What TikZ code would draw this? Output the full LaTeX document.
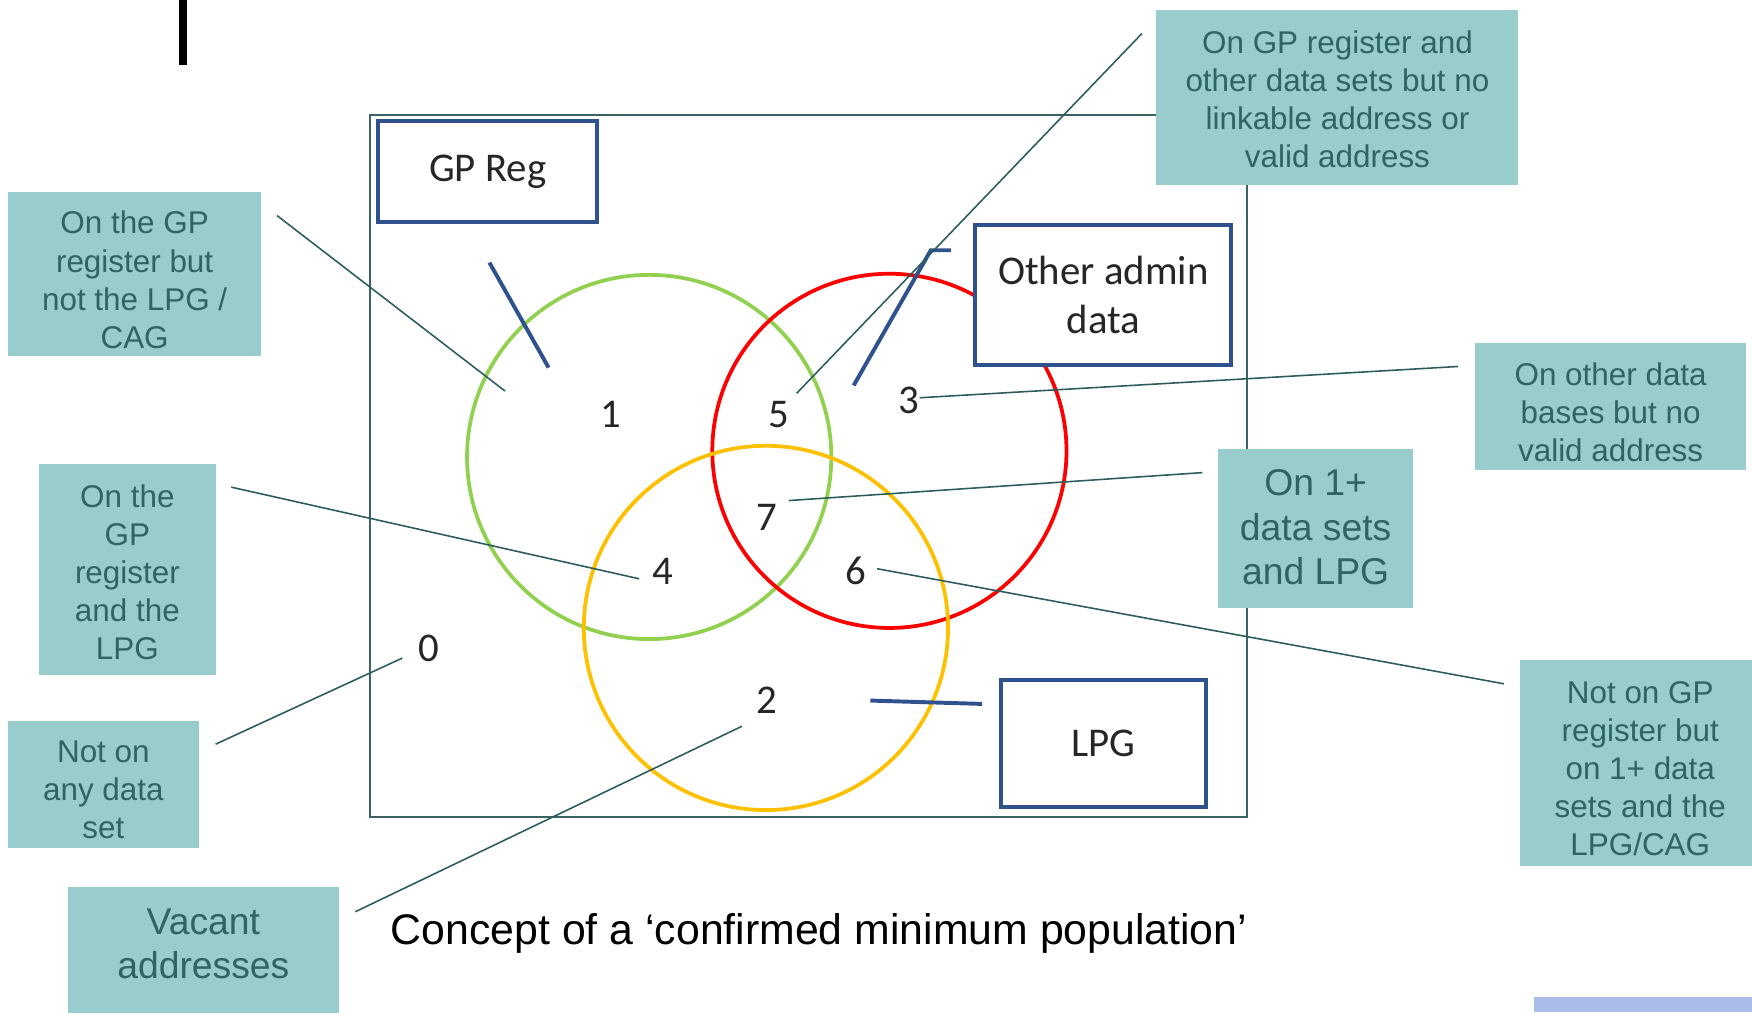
\documentclass[tikz,border=0pt]{standalone}
\usepackage{fontspec}
\setmainfont{Liberation Sans}
\newfontfamily\calibfont{Carlito}
\definecolor{calfill}{RGB}{153,204,204}
\definecolor{caltext}{RGB}{47,100,100}
\definecolor{connc}{RGB}{44,92,92}
\definecolor{framec}{RGB}{58,100,100}
\definecolor{boxblue}{RGB}{47,82,143}
\definecolor{vgreen}{RGB}{146,208,80}
\definecolor{vred}{RGB}{255,0,0}
\definecolor{vyellow}{RGB}{255,192,0}
\definecolor{lav}{RGB}{169,189,232}
\definecolor{numc}{RGB}{38,38,38}
\begin{document}
\begin{tikzpicture}[x=0.1mm,y=-0.1mm,
  calbox/.style={fill=calfill, inner sep=0pt},
  caltext/.style={text=caltext, inner sep=0pt, align=center, font=\fontsize{8}{9.7}\selectfont},
  bigcaltext/.style={caltext, font=\fontsize{9.5}{11.3}\selectfont},
  conn/.style={draw=connc, line width=0.4pt},
  setbox/.style={draw=boxblue, line width=1pt, fill=white, inner sep=0pt, align=center, text=numc, font=\calibfont\fontsize{10.4}{12.5}\selectfont},
  tickline/.style={draw=boxblue, line width=1pt},
  num/.style={font=\calibfont\fontsize{10.4}{12}\selectfont, text=numc, inner sep=0pt},
  vcircle/.style={line width=0.95pt}]

\useasboundingbox (0,0) rectangle (1568,906);

% black bar at top
\fill[black] (160,0) rectangle (167,58);

% frame
\draw[draw=framec, line width=0.5pt] (331,103) rectangle (1116,731);

% circles
\draw[vcircle, vgreen] (581,409) circle [radius=16.3mm];
\draw[vcircle, vred] (796,403.5) circle [radius=15.85mm];
\draw[vcircle, vyellow] (685.5,562) circle [radius=16.3mm];

% set boxes
\node[setbox, minimum width=19.6mm, minimum height=9.0mm] (gpreg) at (436.5,153.5) {GP Reg};
\node[setbox, minimum width=22.9mm, minimum height=12.6mm] (admin) at (987.5,264) {Other admin\\data};
\node[setbox, minimum width=18.4mm, minimum height=11.4mm] (lpg) at (987.5,665.5) {LPG};

% ticks
\coordinate (t1a) at (438,235); \coordinate (t1b) at (491,329);
\coordinate (t2a) at (851,224); \coordinate (t2m) at (833,224); \coordinate (t2b) at (764,345);
\coordinate (t3a) at (779,627); \coordinate (t3b) at (879,630);
\draw[tickline] (t1a) -- (t1b);
\draw[tickline] (t2a) -- (t2m) -- (t2b);
\draw[tickline] (t3a) -- (t3b);

% numbers
\node[num] (n1) at (547,371) {1};
\node[num] (n5) at (697,371) {5};
\node[num] (n3) at (813,358) {3};
\node[num] (n7) at (686,463) {7};
\node[num] (n4) at (593,511) {4};
\node[num] (n6) at (766,511) {6};
\node[num] (n0) at (384,580) {0};
\node[num] (n2) at (686,627) {2};

% connector end points
\coordinate (c1a) at (248,193);  \coordinate (c1b) at (452,350);
\coordinate (c2a) at (1022,30);  \coordinate (c2b) at (713,352);
\coordinate (c3a) at (1305,328); \coordinate (c3b) at (823,356);
\coordinate (c4a) at (207,436);  \coordinate (c4b) at (572,518);
\coordinate (c5a) at (1076,423); \coordinate (c5b) at (706,448);
\coordinate (c6a) at (193,666);  \coordinate (c6b) at (360,589);
\coordinate (c7a) at (318,816);  \coordinate (c7b) at (664,650);
\coordinate (c8a) at (1346,612); \coordinate (c8b) at (785,509);

\draw[conn] (c1a) -- (c1b);
\draw[conn] (c2a) -- (c2b);
\draw[conn] (c3a) -- (c3b);
\draw[conn] (c4a) -- (c4b);
\draw[conn] (c5a) -- (c5b);
\draw[conn] (c6a) -- (c6b);
\draw[conn] (c7a) -- (c7b);
\draw[conn] (c8a) -- (c8b);

% callouts
\node[calbox, minimum width=22.7mm, minimum height=14.7mm] (b1) at (120.5,245.5) {};
\node[caltext] (b1t) at ([yshift=-0.5mm]b1.center) {On the GP\\register but\\not the LPG /\\CAG};
\node[calbox, minimum width=32.4mm, minimum height=15.7mm] (b2) at (1197,87.5) {};
\node[caltext] (b2t) at ([yshift=-0.15mm]b2.center) {On GP register and\\other data sets but no\\linkable address or\\valid address};
\node[calbox, minimum width=24.3mm, minimum height=11.4mm] (b3) at (1441.5,364) {};
\node[caltext] (b3t) at ([yshift=-0.5mm]b3.center) {On other data\\bases but no\\valid address};
\node[calbox, minimum width=15.8mm, minimum height=18.9mm] (b4) at (114,509.5) {};
\node[caltext] (b4t) at ([yshift=-0.25mm]b4.center) {On the\\GP\\register\\and the\\LPG};
\node[calbox, minimum width=17.5mm, minimum height=14.2mm] (b5) at (1177.5,473) {};
\node[bigcaltext] (b5t) at ([yshift=0.1mm]b5.center) {On 1+\\data sets\\and LPG};
\node[calbox, minimum width=17.1mm, minimum height=11.4mm] (b6) at (92.5,702) {};
\node[caltext] (b6t) at ([yshift=-0.5mm]b6.center) {Not on\\any data\\set};
\node[calbox, minimum width=24.2mm, minimum height=12.6mm] (b7) at (182,857) {};
\node[bigcaltext] (b7t) at (182,845) {Vacant\\addresses};
\node[calbox, minimum width=20.8mm, minimum height=18.4mm] (b8) at (1464,683) {};
\node[caltext] (b8t) at ([xshift=0.4mm,yshift=-0.5mm]b8.center) {Not on GP\\register but\\on 1+ data\\sets and the\\LPG/CAG};

% caption
\node[anchor=base west, inner sep=0pt, font=\fontsize{10.9}{13}\selectfont] (cap) at (349,845) {Concept of a ‘confirmed minimum population’};

% lavender strip bottom right
\fill[lav] (1373,892) rectangle (1568,906);
\end{tikzpicture}
\end{document}
